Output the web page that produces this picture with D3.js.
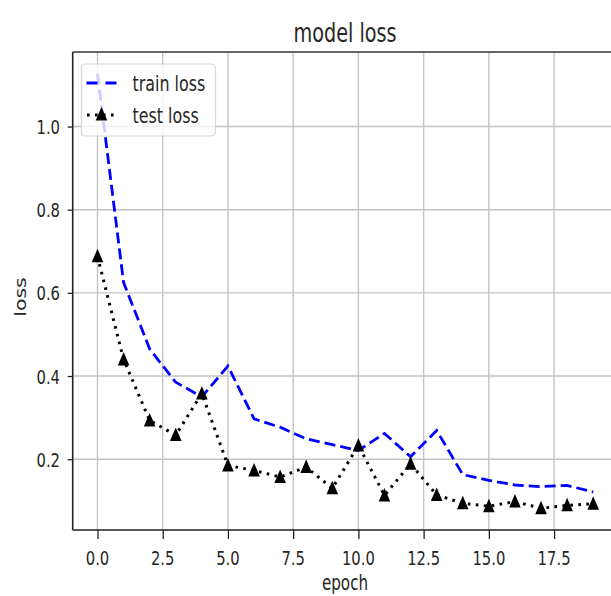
<!DOCTYPE html>
<html><head><meta charset="utf-8">
<script src="https://cdn.jsdelivr.net/npm/d3@7"></script>
<style>html,body{margin:0;padding:0;background:#fff;overflow:hidden}</style>
</head><body>
<svg id="chart" width="611" height="596"></svg>
<script>
const epochs = [0,1,2,3,4,5,6,7,8,9,10,11,12,13,14,15,16,17,18,19];
const trainLoss = [1.127,0.625,0.465,0.385,0.350,0.424,0.297,0.277,0.249,0.235,0.221,0.262,0.206,0.269,0.163,0.149,0.138,0.134,0.137,0.121];
const testLoss  = [0.688,0.440,0.293,0.258,0.358,0.185,0.173,0.157,0.181,0.130,0.233,0.113,0.189,0.114,0.094,0.087,0.098,0.082,0.089,0.093];
const xTicks = [0,2.5,5,7.5,10,12.5,15,17.5];
const yTicks = [0.2,0.4,0.6,0.8,1.0];
const seriesNames = ["train loss","test loss"];
const titleText = "model loss";
const xLabel = "epoch";
const yLabel = "loss";

const SX = 0.74; // horizontal squeeze of text
const FONT = "DejaVu Sans, sans-serif";
const svg = d3.select("#chart");
const L = 72.7, R = 618, T = 52, B = 530;

const xExt = d3.extent(epochs), xPad = (xExt[1]-xExt[0])*0.05;
const allY = trainLoss.concat(testLoss);
const yExt = d3.extent(allY), yPad = (yExt[1]-yExt[0])*0.05;
const x = d3.scaleLinear().domain([xExt[0]-xPad, xExt[1]+xPad]).range([L, R]);
const y = d3.scaleLinear().domain([yExt[0]-yPad, yExt[1]+yPad]).range([B, T]);

function txt(g, px, py, s, size, anchor, rot) {
  return g.append("text")
    .attr("transform", `translate(${px},${py}) scale(${SX},1)` + (rot ? ` rotate(${rot})` : ""))
    .attr("text-anchor", anchor)
    .attr("font-family", FONT)
    .attr("font-size", size)
    .attr("fill", "#262626")
    .text(s);
}

// grid
const grid = svg.append("g");
grid.selectAll("line.gx").data(xTicks).join("line")
  .attr("x1", d => x(d)).attr("x2", d => x(d)).attr("y1", T).attr("y2", B)
  .attr("stroke", "#c4c4c4").attr("stroke-width", 1.4);
grid.selectAll("line.gy").data(yTicks).join("line")
  .attr("x1", L).attr("x2", R).attr("y1", d => y(d)).attr("y2", d => y(d))
  .attr("stroke", "#c4c4c4").attr("stroke-width", 1.4);

// axes (ticks)
const xAxis = svg.append("g").attr("transform", `translate(0,${B})`)
  .call(d3.axisBottom(x).tickValues(xTicks).tickSize(9).tickFormat(""));
const yAxis = svg.append("g").attr("transform", `translate(${L},0)`)
  .call(d3.axisLeft(y).tickValues(yTicks).tickSize(5).tickFormat(""));
[xAxis, yAxis].forEach(a => {
  a.select(".domain").remove();
  a.selectAll(".tick line").attr("stroke", "#222").attr("stroke-width", 1.3);
});
xTicks.forEach(v => txt(svg, x(v), 565, d3.format(".1f")(v), 20, "middle"));
yTicks.forEach(v => txt(svg, 60, y(v) + 7.5, d3.format(".1f")(v), 20, "end"));

// spines
svg.append("line").attr("x1", L).attr("x2", L).attr("y1", T).attr("y2", B).attr("stroke", "#222").attr("stroke-width", 1.6);
svg.append("line").attr("x1", L).attr("x2", R).attr("y1", T).attr("y2", T).attr("stroke", "#333").attr("stroke-width", 1.6);
svg.append("line").attr("x1", L).attr("x2", R).attr("y1", B).attr("y2", B).attr("stroke", "#222").attr("stroke-width", 1.6);

// lines
const line = d3.line().x((d, i) => x(epochs[i])).y(d => y(d));
svg.append("path").datum(trainLoss).attr("d", line)
  .attr("fill", "none").attr("stroke", "#0000ff").attr("stroke-width", 2.8)
  .attr("stroke-dasharray", "11,5");
svg.append("path").datum(testLoss).attr("d", line)
  .attr("fill", "none").attr("stroke", "#000").attr("stroke-width", 3)
  .attr("stroke-dasharray", "2.6,5.4");
const tri = "M0,-7.5L5.8,6L-5.8,6Z";
svg.selectAll("path.mk").data(testLoss).join("path").attr("class", "mk")
  .attr("d", tri).attr("transform", (d, i) => `translate(${x(epochs[i])},${y(d)})`)
  .attr("fill", "#000");

// legend
const lg = svg.append("g");
lg.append("rect").attr("x", 81.5).attr("y", 64).attr("width", 134).attr("height", 72)
  .attr("rx", 4).attr("fill", "#fff").attr("fill-opacity", 0.8)
  .attr("stroke", "#d6d6d6").attr("stroke-width", 1.2);
lg.append("line").attr("x1", 86.5).attr("x2", 116.5).attr("y1", 83).attr("y2", 83)
  .attr("stroke", "#0000ff").attr("stroke-width", 2.8).attr("stroke-dasharray", "11,8");
lg.append("line").attr("x1", 87).attr("x2", 117).attr("y1", 115).attr("y2", 115)
  .attr("stroke", "#000").attr("stroke-width", 3).attr("stroke-dasharray", "2.6,5.4");
lg.append("path").attr("d", tri).attr("transform", "translate(101.5,114.5)").attr("fill", "#000");
txt(lg, 132.5, 90.5, seriesNames[0], 21.5, "start");
txt(lg, 132.5, 122.5, seriesNames[1], 21.5, "start");

// title & labels
txt(svg, 345, 41.5, titleText, 26, "middle");
txt(svg, 345, 590, xLabel, 20.5, "middle");
txt(svg, 26, 297, yLabel, 20.5, "middle", -90);
</script>
</body></html>
